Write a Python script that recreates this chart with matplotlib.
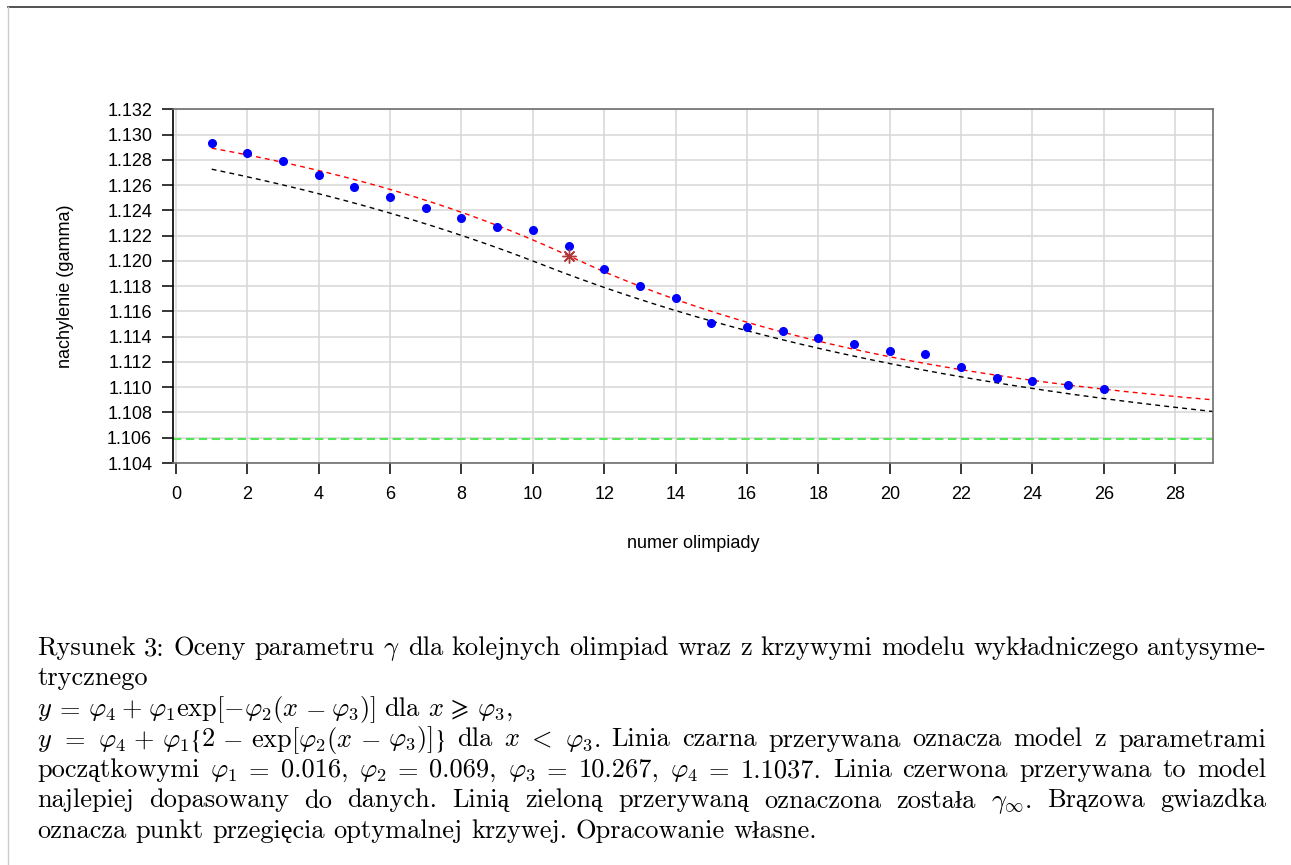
import numpy as np
import matplotlib
matplotlib.use('Agg')
import matplotlib.pyplot as plt
from matplotlib.lines import Line2D

plt.rcParams['font.family'] = ['Liberation Sans', 'DejaVu Sans']
plt.rcParams['mathtext.fontset'] = 'cm'

# oceny gamma dla kolejnych olimpiad
olimpiada = np.arange(1, 27)
gamma = [1.12933, 1.12854, 1.12790, 1.12679, 1.12584, 1.12505, 1.12418, 1.12339,
         1.12267, 1.12244, 1.12117, 1.11935, 1.11802, 1.11707, 1.11507, 1.11475,
         1.11443, 1.11388, 1.11340, 1.11285, 1.11261, 1.11158, 1.11071, 1.11047,
         1.11016, 1.10984]

# parametry modelu: phi1, phi2, phi3, phi4
par_start = [0.016, 0.069, 10.267, 1.1037]
par_opt = [0.0139, 0.095, 11.0, 1.1065]
gamma_inf = 1.1059

x_ticks = list(range(0, 30, 2))
y_ticks = [1.104 + 0.002 * i for i in range(15)]


def model(x, p1, p2, p3, p4):
    x = np.asarray(x, dtype=float)
    return np.where(x >= p3, p4 + p1 * np.exp(-p2 * (x - p3)),
                    p4 + p1 * (2 - np.exp(p2 * (x - p3))))


W, H = 1291, 865
fig = plt.figure(figsize=(W / 100, H / 100), dpi=100)
ax = fig.add_axes([173.3 / W, 1 - 463 / H, (1213 - 173.3) / W, (463 - 109.3) / H])

xx = np.linspace(1, 29.5, 400)
ax.plot(xx, model(xx, *par_start), color='black', lw=1.0, dashes=(3.5, 3))
ax.plot(xx, model(xx, *par_opt), color='red', lw=1.0, dashes=(3.5, 3))
ax.axhline(gamma_inf, color='#55e655', lw=1.5, dashes=(4, 2.2))
ax.plot(olimpiada, gamma, 'o', color='blue', ms=5.5, mec='blue')
ax.plot([par_opt[2]], [par_opt[3] + par_opt[0]], marker=(8, 2, 0), ms=10,
        mew=1.0, color='#b03a3a', ls='none')

ax.set_xlim(-0.076, 29.06)
ax.set_ylim(1.104, 1.132)
ax.set_xticks(x_ticks)
ax.set_yticks(y_ticks)
ax.set_yticklabels(['%.3f' % v for v in y_ticks])
ax.grid(True, color='#d6d6d6', lw=1.1)
ax.set_axisbelow(True)
ax.tick_params(axis='both', length=8, width=1.1, labelsize=13, color='black')
ax.tick_params(axis='x', pad=8.4)
ax.tick_params(axis='y', pad=7.2)
for s in ['top', 'right', 'bottom']:
    ax.spines[s].set_color('#6e6e6e')
    ax.spines[s].set_linewidth(1.2)
ax.spines['left'].set_color('black')
ax.spines['left'].set_linewidth(1.2)

fig.text(65 / W, 1 - 286 / H, 'nachylenie (gamma)', rotation=90, fontsize=13,
         ha='center', va='center')
fig.text(693 / W, 1 - 544 / H, 'numer olimpiady', fontsize=13, ha='center', va='center')

# ramka strony
fig.add_artist(Line2D([8 / W, 1], [1 - 7 / H, 1 - 7 / H], color='#333333', lw=1.2,
                      transform=fig.transFigure))
fig.add_artist(Line2D([8 / W, 8 / W], [0, 1 - 7 / H], color='#cccccc', lw=1.0,
                      transform=fig.transFigure))

# podpis - wyjustowany jak w LaTeX
CAP_FS = 19
cap_family = ['cmr10', 'Liberation Serif']
em = CAP_FS * 100 / 72
left_px, right_px = 37, 1266
base0, skip = 655, 30.5

LB = (r"$\{$", 'stix')
RB = (r"$\}$", 'stix')


def w(*pieces):
    return list(pieces)


lines = [
    ([w("Rysunek"), w("3:"), w("Oceny"), w("parametru"), w(r"$\gamma$"), w("dla"),
      w("kolejnych"), w("olimpiad"), w("wraz"), w("z"), w("krzywymi"), w("modelu"),
      w("wykładniczego"), w("antysyme-")], True),
    ([w("trycznego")], False),
    ([w("$y$"), w("$=$"), w(r"$\varphi_4$"), w("$+$"),
      w(r"$\varphi_1\mathrm{exp}[-\varphi_2(x$"), w("$-$"), w(r"$\varphi_3)]$"),
      w("dla"), w("$x$"), w(r"$\geqslant$"), w(r"$\varphi_3$,")], False),
    ([w("$y$"), w("$=$"), w(r"$\varphi_4$"), w("$+$"), w(r"$\varphi_1$", LB, "$2$"),
      w("$-$"), w(r"$\mathrm{exp}[\varphi_2(x$"), w("$-$"), w(r"$\varphi_3)]$", RB),
      w("dla"), w("$x$"), w("$<$"), w(r"$\varphi_3$."), w("Linia"), w("czarna"),
      w("przerywana"), w("oznacza"), w("model"), w("z"), w("parametrami")], True),
    ([w("początkowymi"), w(r"$\varphi_1$"), w("$=$"), w("0.016,"), w(r"$\varphi_2$"),
      w("$=$"), w("0.069,"), w(r"$\varphi_3$"), w("$=$"), w("10.267,"),
      w(r"$\varphi_4$"), w("$=$"), w("1.1037."), w("Linia"), w("czerwona"),
      w("przerywana"), w("to"), w("model")], True),
    ([w("najlepiej"), w("dopasowany"), w("do"), w("danych."), w("Linią"), w("zieloną"),
      w("przerywaną"), w("oznaczona"), w("została"), w(r"$\gamma_\infty$."),
      w("Brązowa"), w("gwiazdka")], True),
    ([w("oznacza"), w("punkt"), w("przegięcia"), w("optymalnej"), w("krzywej."),
      w("Opracowanie"), w("własne.")], False),
]

REL = {'$=$', '$<$', r'$\geqslant$'}
BIN = {'$+$', '$-$'}


def first(word):
    p = word[0]
    return p if isinstance(p, str) else p[0]


def gap_kind(a, b):
    # mathtext dokleja odstep przed relacja, wiec przed nia mniej
    if first(b) in REL:
        return 0.10, 0.278
    if first(a) in REL:
        return 0.278, 0.278
    if first(a) in BIN or first(b) in BIN:
        return 0.222, 0.111
    return 0.333, 0.167


renderer = fig.canvas.get_renderer()
for i, (words, justify) in enumerate(lines):
    y = 1 - (base0 + i * skip) / H
    word_objs = []
    for word in words:
        objs = []
        for p in word:
            if isinstance(p, str):
                t = fig.text(0, y, p, fontsize=CAP_FS, family=cap_family, va='baseline')
            else:
                t = fig.text(0, y, p[0], fontsize=CAP_FS, family=cap_family,
                             va='baseline', math_fontfamily=p[1])
            objs.append((t, t.get_window_extent(renderer=renderer).width))
        word_objs.append(objs)
    widths = [sum(o[1] for o in objs) for objs in word_objs]
    gaps = [gap_kind(words[k], words[k + 1]) for k in range(len(words) - 1)]
    nat = [g[0] * em for g in gaps]
    if justify and gaps:
        extra = (right_px - left_px) - sum(widths) - sum(nat)
        r = extra / (sum(g[1] for g in gaps) * em)
        nat = [g[0] * em + r * g[1] * em for g in gaps]
    x = left_px
    for k, objs in enumerate(word_objs):
        for t, wd in objs:
            t.set_position((x / W, y))
            x += wd
        if k < len(nat):
            x += nat[k]

fig.savefig('out.png', dpi=100)
